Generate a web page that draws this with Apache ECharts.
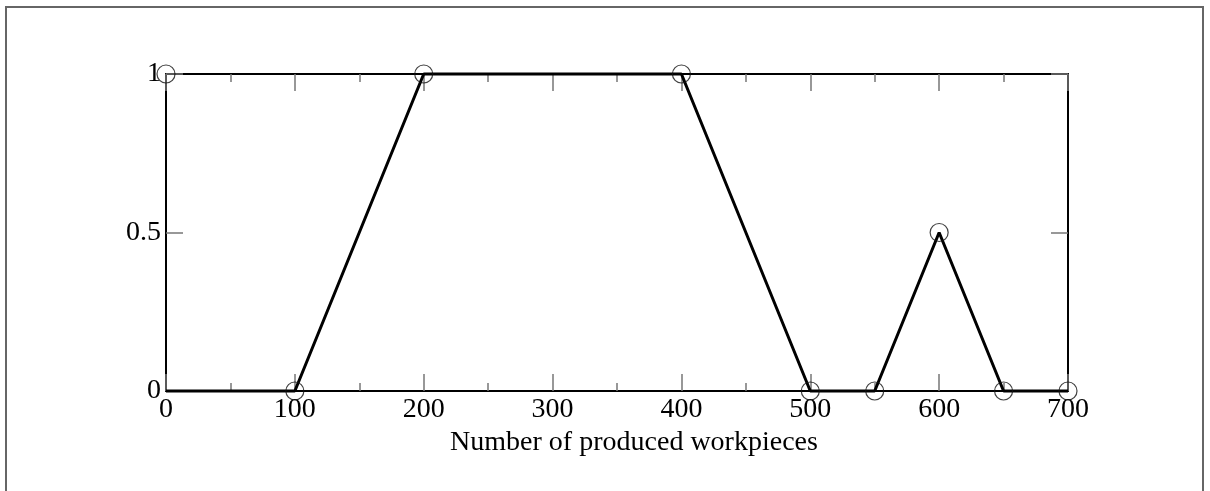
<!DOCTYPE html>
<html>
<head>
<meta charset="utf-8">
<script src="https://cdn.jsdelivr.net/npm/echarts@6/dist/echarts.min.js"></script>
<style>
  html, body { margin: 0; padding: 0; background: #fff; }
  #chart { width: 1210px; height: 491px; }
</style>
</head>
<body>
<div id="chart"></div>
<script>
// x positions of the polyline and its values
const lineX = [0, 100, 200, 400, 500, 550, 600, 650, 700]
const lineY = [0, 0, 1, 1, 0, 0, 0.5, 0, 0]
// circle markers (the first one sits at y = 1)
const markX = [0, 100, 200, 400, 500, 550, 600, 650, 700]
const markY = [1, 0, 1, 1, 0, 0, 0.5, 0, 0]
const xTitle = 'Number of produced workpieces'

const font = 'Liberation Serif'
const tickStyle = { color: '#777', width: 1.5 }

// shared axis pieces
function xAxisBase (pos, showLabels) {
  return {
    type: 'value',
    position: pos,
    min: 0,
    max: 700,
    interval: 100,
    axisLine: { show: true, onZero: false, lineStyle: { color: '#000', width: 2 } },
    axisTick: { show: true, inside: true, length: 17, lineStyle: tickStyle },
    minorTick: { show: true, splitNumber: 2, length: 8, lineStyle: tickStyle },
    axisLabel: { show: showLabels, color: '#000', fontFamily: font, fontSize: 28, margin: 5 },
    splitLine: { show: false }
  }
}

function yAxisBase (pos, showLabels) {
  return {
    type: 'value',
    position: pos,
    min: 0,
    max: 1,
    interval: 0.5,
    axisLine: { show: true, onZero: false, lineStyle: { color: '#000', width: 2 } },
    axisTick: { show: true, inside: true, length: 17, lineStyle: tickStyle },
    axisLabel: { show: showLabels, color: '#000', fontFamily: font, fontSize: 28, margin: 5 },
    splitLine: { show: false }
  }
}

const bottomAxis = xAxisBase('bottom', true)
bottomAxis.name = xTitle
bottomAxis.nameLocation = 'middle'
bottomAxis.nameGap = 36
bottomAxis.nameTextStyle = { color: '#000', fontFamily: font, fontSize: 28, padding: [0, 0, 0, 34] }

const chart = echarts.init(document.getElementById('chart'))
chart.setOption({
  animation: false,
  backgroundColor: '#fff',
  grid: { left: 166, right: 142, top: 74, bottom: 100 },
  xAxis: [bottomAxis, xAxisBase('top', false)],
  yAxis: [yAxisBase('left', true), yAxisBase('right', false)],
  graphic: [{
    type: 'rect',
    shape: { x: 6, y: 7, width: 1197, height: 520 },
    style: { fill: null, stroke: '#666', lineWidth: 2 },
    silent: true
  }],
  series: [{
    type: 'line',
    data: lineX.map((x, i) => [x, lineY[i]]),
    showSymbol: false,
    symbol: 'none',
    lineStyle: { color: '#000', width: 3 },
    clip: false,
    z: 3
  }, {
    type: 'scatter',
    data: markX.map((x, i) => [x, markY[i]]),
    symbol: 'circle',
    symbolSize: 18,
    itemStyle: { color: 'transparent', borderColor: '#111', borderWidth: 1.2 },
    clip: false,
    z: 4
  }]
})
</script>
</body>
</html>
